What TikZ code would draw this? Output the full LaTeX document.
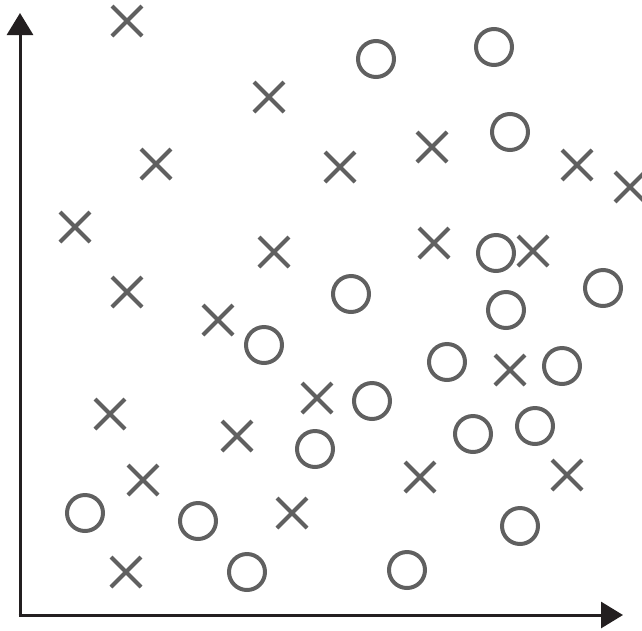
\documentclass[tikz,border=0pt]{standalone}
\usetikzlibrary{arrows.meta,shapes.misc}
\definecolor{mark}{HTML}{606060}
\definecolor{axis}{HTML}{231F20}
\tikzset{
  circ/.style={circle,draw=mark,line width=4pt,minimum size=36pt,inner sep=0pt},
  crossmk/.style={cross out,draw=mark,line width=4pt,minimum size=26pt,inner sep=0pt},
  axisline/.style={draw=axis,line width=3pt,-{Triangle[length=22pt,width=26pt]}}
}
\begin{document}
\begin{tikzpicture}[x=1pt,y=-1pt]
\useasboundingbox (0,0) rectangle (642,630);
\coordinate (o) at (20,615);
\coordinate (ytop) at (20,13);
\coordinate (xend) at (623,615);
\draw[axisline] (20,616.5) -- (ytop);
\draw[axisline] (18.5,615) -- (xend);
% crosses
\foreach \x/\y [count=\i] in {127/21,269/97,156/164,340/167,432/147,577/165,630/187,75/227,274/252,434/243,533/251,127/292,218/320,510/370,317/398,110/414,237/436,143/480,420/477,567/475,292/513,126/572}
  \node[crossmk] (x\i) at (\x,\y) {};
% circles
\foreach \x/\y [count=\i] in {376/59,494/47,510/132,496/253,603/288,351/294,506/310,264/345,447/362,562/366,372/401,473/434,535/426,315/449,85/513,198/521,520/526,247/572,407/570}
  \node[circ] (c\i) at (\x,\y) {};
\end{tikzpicture}
\end{document}
